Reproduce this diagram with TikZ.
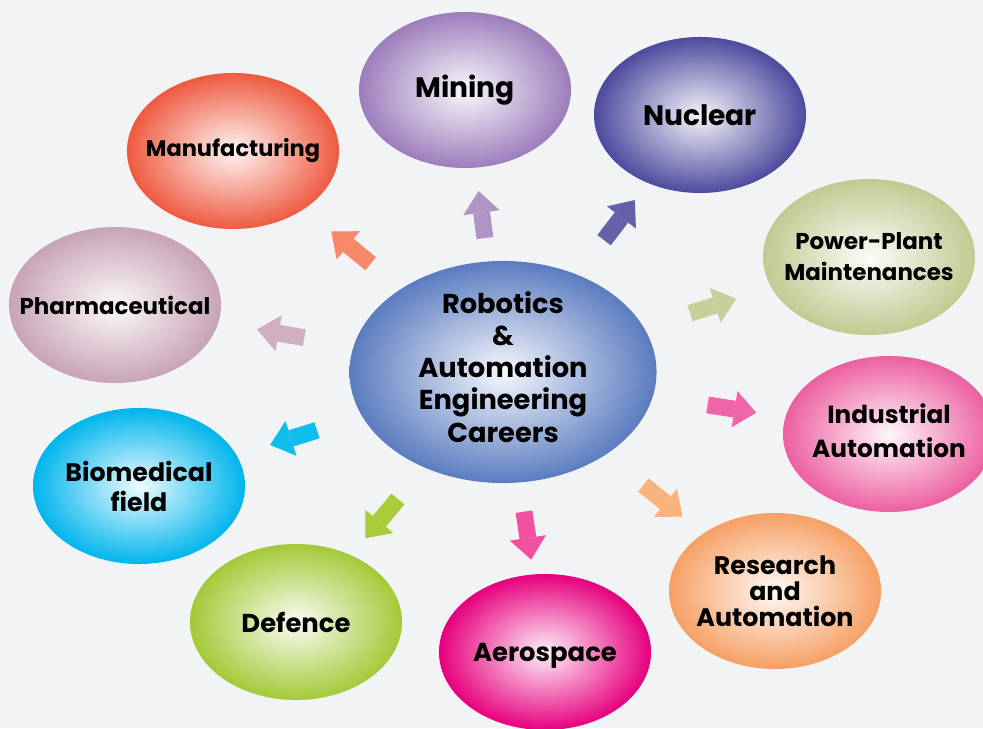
\documentclass[tikz,border=0pt]{standalone}
\usepackage{fontspec}
\setmainfont{Poppins}
\usetikzlibrary{shapes.geometric,calc,arrows.meta}
\definecolor{bg}{HTML}{F1F3F5}
\definecolor{ctrc}{HTML}{5B7CC0}
\definecolor{mngc}{HTML}{9C7DBB}
\definecolor{nclc}{HTML}{4E4A9E}
\definecolor{mfgc}{HTML}{EE5A40}
\definecolor{phac}{HTML}{C7A3B5}
\definecolor{ppmc}{HTML}{BFCB92}
\definecolor{indc}{HTML}{EC5FA0}
\definecolor{bioc}{HTML}{00B5EC}
\definecolor{dfcc}{HTML}{A3C938}
\definecolor{aerc}{HTML}{E6007E}
\definecolor{rscc}{HTML}{F6A065}
\definecolor{mnga}{HTML}{AF95C6}
\definecolor{ncla}{HTML}{6560AA}
\definecolor{mfga}{HTML}{F7886A}
\definecolor{phaa}{HTML}{D0B0C0}
\definecolor{ppma}{HTML}{C6D09B}
\definecolor{inda}{HTML}{F066A8}
\definecolor{bioa}{HTML}{0EBFEE}
\definecolor{dfca}{HTML}{A8CC3A}
\definecolor{aera}{HTML}{F052A0}
\definecolor{rsca}{HTML}{F8B47C}
\tikzset{bub/.style = {ellipse, minimum width=5.3cm, minimum height=3.9cm, inner sep=0pt,
                       shading=radial, inner color=#1!6!white, outer color=#1}}
\tikzset{lbl/.style 2 args = {font=\fontsize{#1}{#2}\selectfont\bfseries, align=center, text=black}}
\tikzset{arr/.style = {draw=#1, line width=12pt, -{Triangle[width=26pt,length=15.6pt,line width=0pt]}}}

\begin{document}
\begin{tikzpicture}[x=0.025cm,y=-0.025cm]
\fill[bg] (0,0) rectangle (983,728);
\useasboundingbox (0,0) rectangle (983,728);
\node[bub=ctrc, minimum width=7.675cm, minimum height=5.55cm,
      label={[lbl={19.4}{22.8},yshift=3.5pt]center:Robotics\\\&\\Automation\\Engineering\\Careers}] (ctr) at (503,372) {};
\node[bub=mngc, label={[lbl={20}{24}]center:Mining}] (mng) at (465,90) {};
\node[bub=nclc, label={[lbl={20}{24}]center:Nuclear}] (ncl) at (700,115) {};
\node[bub=mfgc, label={[lbl={16}{21}]center:Manufacturing}] (mfg) at (233,151) {};
\node[bub=phac, label={[lbl={16.3}{21}]center:Pharmaceutical}] (pha) at (115,305) {};
\node[bub=ppmc, label={[lbl={16.3}{22}]center:Power-Plant\\Maintenances}] (ppm) at (869,257) {};
\node[bub=indc, label={[lbl={17.6}{24.2},yshift=2.5pt]center:Industrial\\Automation}] (ind) at (889,434) {};
\node[bub=bioc, label={[lbl={18}{21.3}]center:Biomedical\\field}] (bio) at (139,486) {};
\node[bub=dfcc, label={[lbl={18.4}{22}]center:Defence}] (dfc) at (296,622) {};
\node[bub=aerc, label={[lbl={18.4}{22},yshift=-3pt]center:Aerospace}] (aer) at (545,652) {};
\node[bub=rscc, label={[lbl={18}{18.5}]center:Research\\and\\Automation}] (rsc) at (775,591) {};
\foreach \n/\c/\s/\e in {mfg/mfga/0.49/0.636, mng/mnga/0.475/0.642, ncl/ncla/0.513/0.669,
                         ppm/ppma/0.511/0.637, pha/phaa/0.512/0.634, bio/bioa/0.511/0.64,
                         dfc/dfca/0.508/0.665, aer/aera/0.499/0.67, ind/inda/0.53/0.656,
                         rsc/rsca/0.516/0.66}
  \draw[arr=\c] ($(ctr)!\s!(\n)$) -- ($(ctr)!\e!(\n)$);
\end{tikzpicture}
\end{document}
